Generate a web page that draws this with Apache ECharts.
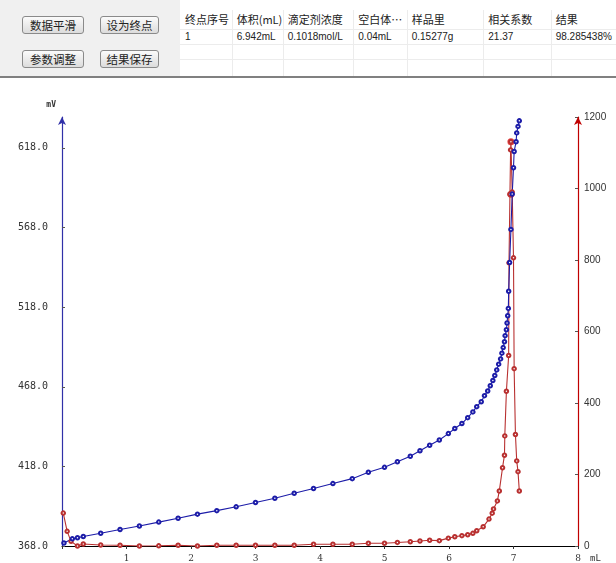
<!DOCTYPE html>
<html>
<head>
<meta charset="utf-8">
<script src="https://cdn.jsdelivr.net/npm/echarts@6/dist/echarts.min.js"></script>
<style>
  html, body { margin:0; padding:0; background:#fff; }
  #wrap { position:relative; width:616px; height:563px; overflow:hidden; }
  #chart { position:absolute; left:0; top:0; width:616px; height:563px; }
  #panel { position:absolute; left:0; top:0; width:616px; height:76px; background:#f0f0f0; border-bottom:2px solid #808080; font-family:"Noto Sans CJK SC", sans-serif; }
  .btn { position:absolute; height:16px; border:1px solid #8a8a8a; border-radius:3px; background:linear-gradient(#fbfbfb,#dcdcdc); font-size:11.5px; line-height:16px; text-align:center; color:#222; }
  #tbl { position:absolute; left:180px; top:0; width:436px; height:76px; background:#fff; }
  .cell { position:absolute; font-size:11px; color:#222; white-space:nowrap; }
  .vl { position:absolute; top:10px; width:1px; height:66px; background:#ececec; }
  .hl { position:absolute; left:0; width:436px; height:1px; background:#ececec; }
</style>
</head>
<body>
<div id="wrap">
  <div id="chart"></div>
  <div id="panel">
    <div class="btn" style="left:22px;top:16px;width:60px;">数据平滑</div>
    <div class="btn" style="left:100px;top:16px;width:57px;">设为终点</div>
    <div class="btn" style="left:22px;top:50px;width:60px;">参数调整</div>
    <div class="btn" style="left:100px;top:50px;width:57px;">结果保存</div>
    <div id="tbl"></div>
  </div>
</div>
<script>
// ---- table data ----
const tableHeaders = ["终点序号", "体积(mL)", "滴定剂浓度", "空白体…", "样品里", "相关系数", "结果"];
const tableRow1 = ["1", "6.942mL", "0.1018mol/L", "0.04mL", "0.15277g", "21.37", "98.285438%"];

// ---- chart data ----
const xTicks = [0, 1, 2, 3, 4, 5, 6, 7, 8];
const blueX = [0.03, 0.16, 0.24, 0.33, 0.6, 0.9, 1.2, 1.5, 1.8, 2.1, 2.4, 2.7, 3.0, 3.3, 3.6, 3.9, 4.2, 4.5, 4.75, 5.0, 5.2, 5.4, 5.55, 5.7, 5.85, 5.99, 6.09, 6.2, 6.29, 6.37, 6.43, 6.5, 6.55, 6.6, 6.64, 6.68, 6.71, 6.74, 6.77, 6.8, 6.82, 6.84, 6.86, 6.87, 6.89, 6.9, 6.91, 6.92, 6.925, 6.94, 6.96, 6.98, 7.0, 7.01, 7.04, 7.05, 7.07, 7.09];
const blueY = [369.9, 372.5, 373.2, 374.0, 376.0, 378.4, 380.6, 383.0, 385.4, 388.0, 390.2, 392.6, 395.3, 398.0, 401.1, 404.1, 407.2, 410.3, 414.3, 417.4, 420.9, 424.4, 427.8, 431.3, 434.6, 438.6, 441.8, 444.9, 448.6, 452.2, 455.5, 458.6, 462.4, 465.3, 468.6, 471.9, 475.1, 478.6, 482.2, 485.5, 489.1, 492.6, 496.3, 500.1, 503.8, 508.0, 512.6, 517.2, 528.0, 546.0, 566.8, 589.0, 605.5, 615.7, 621.9, 627.4, 631.5, 635.0];
const redX = [0.02, 0.08, 0.14, 0.24, 0.33, 0.6, 0.9, 1.2, 1.5, 1.8, 2.1, 2.4, 2.7, 3.0, 3.3, 3.6, 3.9, 4.2, 4.5, 4.75, 5.0, 5.2, 5.4, 5.55, 5.7, 5.85, 5.99, 6.09, 6.2, 6.29, 6.37, 6.43, 6.53, 6.62, 6.67, 6.69, 6.75, 6.78, 6.83, 6.86, 6.865, 6.89, 6.925, 6.93, 6.945, 6.955, 6.96, 6.98, 7.0, 7.01, 7.03, 7.05, 7.07, 7.09];
const redY = [92, 41, 13, 0, 5.6, 2.8, 2, 0, 0.5, 2, 0, 2, 2, 2, 2, 2, 5, 5, 5, 7.5, 7.5, 10, 12, 14, 16, 15, 22, 26, 29, 31.5, 35.4, 42.6, 53.7, 75.2, 91.9, 103.8, 126.1, 154, 219, 254, 308, 433, 533, 792, 984, 1108, 1131, 990, 806, 496, 312, 238, 208, 154];
const peakX = [6.96, 6.96];
const peakY = [1131, 984];

// build table
const tbl = document.getElementById('tbl');
const colX = [0, 51.7, 102.7, 173.3, 226.7, 303.3, 370.7];
let html = '';
for (let i = 1; i < colX.length; i++) html += `<div class="vl" style="left:${colX[i]}px"></div>`;
[29, 44, 59].forEach(y => { html += `<div class="hl" style="top:${y}px"></div>`; });
tableHeaders.forEach((t, i) => { html += `<div class="cell" style="left:${colX[i] + 5}px;top:11px;font-size:11px;">${t}</div>`; });
tableRow1.forEach((t, i) => { html += `<div class="cell" style="left:${colX[i] + 5}px;top:31px;font-size:10px;font-family:'Liberation Sans',sans-serif;">${t}</div>`; });
tbl.innerHTML = html;

const chart = echarts.init(document.getElementById('chart'), null, { renderer: 'canvas' });
const pair = (xs, ys) => xs.map((x, i) => [x, ys[i]]);
chart.setOption({
  animation: false,
  backgroundColor: '#fff',
  grid: { left: 62, right: 38, top: 117, bottom: 15, containLabel: false },
  xAxis: {
    type: 'value', min: xTicks[0], max: xTicks[xTicks.length - 1], interval: 1,
    name: 'mL', nameLocation: 'end', nameGap: 12,
    nameTextStyle: { color: '#333', fontSize: 9, fontFamily: 'DejaVu Sans Mono', verticalAlign: 'top', padding: [8, 0, 0, 0] },
    axisLine: { lineStyle: { color: '#000', width: 1 } },
    axisTick: { show: true, length: 3, lineStyle: { color: '#333' } },
    axisLabel: { color: '#333', fontSize: 9, fontFamily: 'DejaVu Serif', margin: 8, formatter: v => v === 0 ? '' : String(v) },
    splitLine: { show: false }
  },
  yAxis: [
    {
      type: 'value', min: 368, max: 637.4, interval: 50,
      name: 'mV', nameLocation: 'end', nameGap: 8,
      nameTextStyle: { color: '#333', fontSize: 8, fontWeight: 'bold', fontFamily: 'DejaVu Sans Mono', align: 'right', padding: [0, 6, 0, 0] },
      axisLine: { show: true, symbol: ['none', 'arrow'], symbolSize: [6, 8], lineStyle: { color: '#3030a8', width: 1.2 } },
      axisTick: { show: true, length: 3, inside: true, lineStyle: { color: '#555' } },
      axisLabel: { color: '#333', fontSize: 10, fontFamily: 'DejaVu Sans Mono', margin: 14, showMaxLabel: false, formatter: v => v.toFixed(1) },
      splitLine: { show: false }
    },
    {
      type: 'value', min: 0, max: 1200, interval: 200, position: 'right',
      axisLine: { show: true, symbol: ['none', 'arrow'], symbolSize: [6, 8], lineStyle: { color: '#c00000', width: 1.2 } },
      axisTick: { show: true, length: 3, inside: true, lineStyle: { color: '#555' } },
      axisLabel: { color: '#333', fontSize: 10, fontFamily: 'Liberation Sans', margin: 6, formatter: v => String(v) },
      splitLine: { show: false }
    }
  ],
  series: [
    {
      type: 'line', yAxisIndex: 1, data: pair(redX, redY),
      symbol: 'emptyCircle', symbolSize: 3.5, showAllSymbol: true,
      lineStyle: { color: '#b83030', width: 1.1 },
      itemStyle: { color: '#b83030', borderWidth: 0.8 }
    },
    {
      type: 'line', yAxisIndex: 0, data: pair(blueX, blueY),
      symbol: 'emptyCircle', symbolSize: 3.5, showAllSymbol: true,
      lineStyle: { color: '#1c1ca8', width: 1.1 },
      itemStyle: { color: '#1c1ca8', borderWidth: 0.8 }
    },
    {
      type: 'scatter', yAxisIndex: 1, data: pair(peakX, peakY),
      symbol: 'circle', symbolSize: 7,
      itemStyle: { color: '#e01515' }
    }
  ]
});
</script>
</body>
</html>
